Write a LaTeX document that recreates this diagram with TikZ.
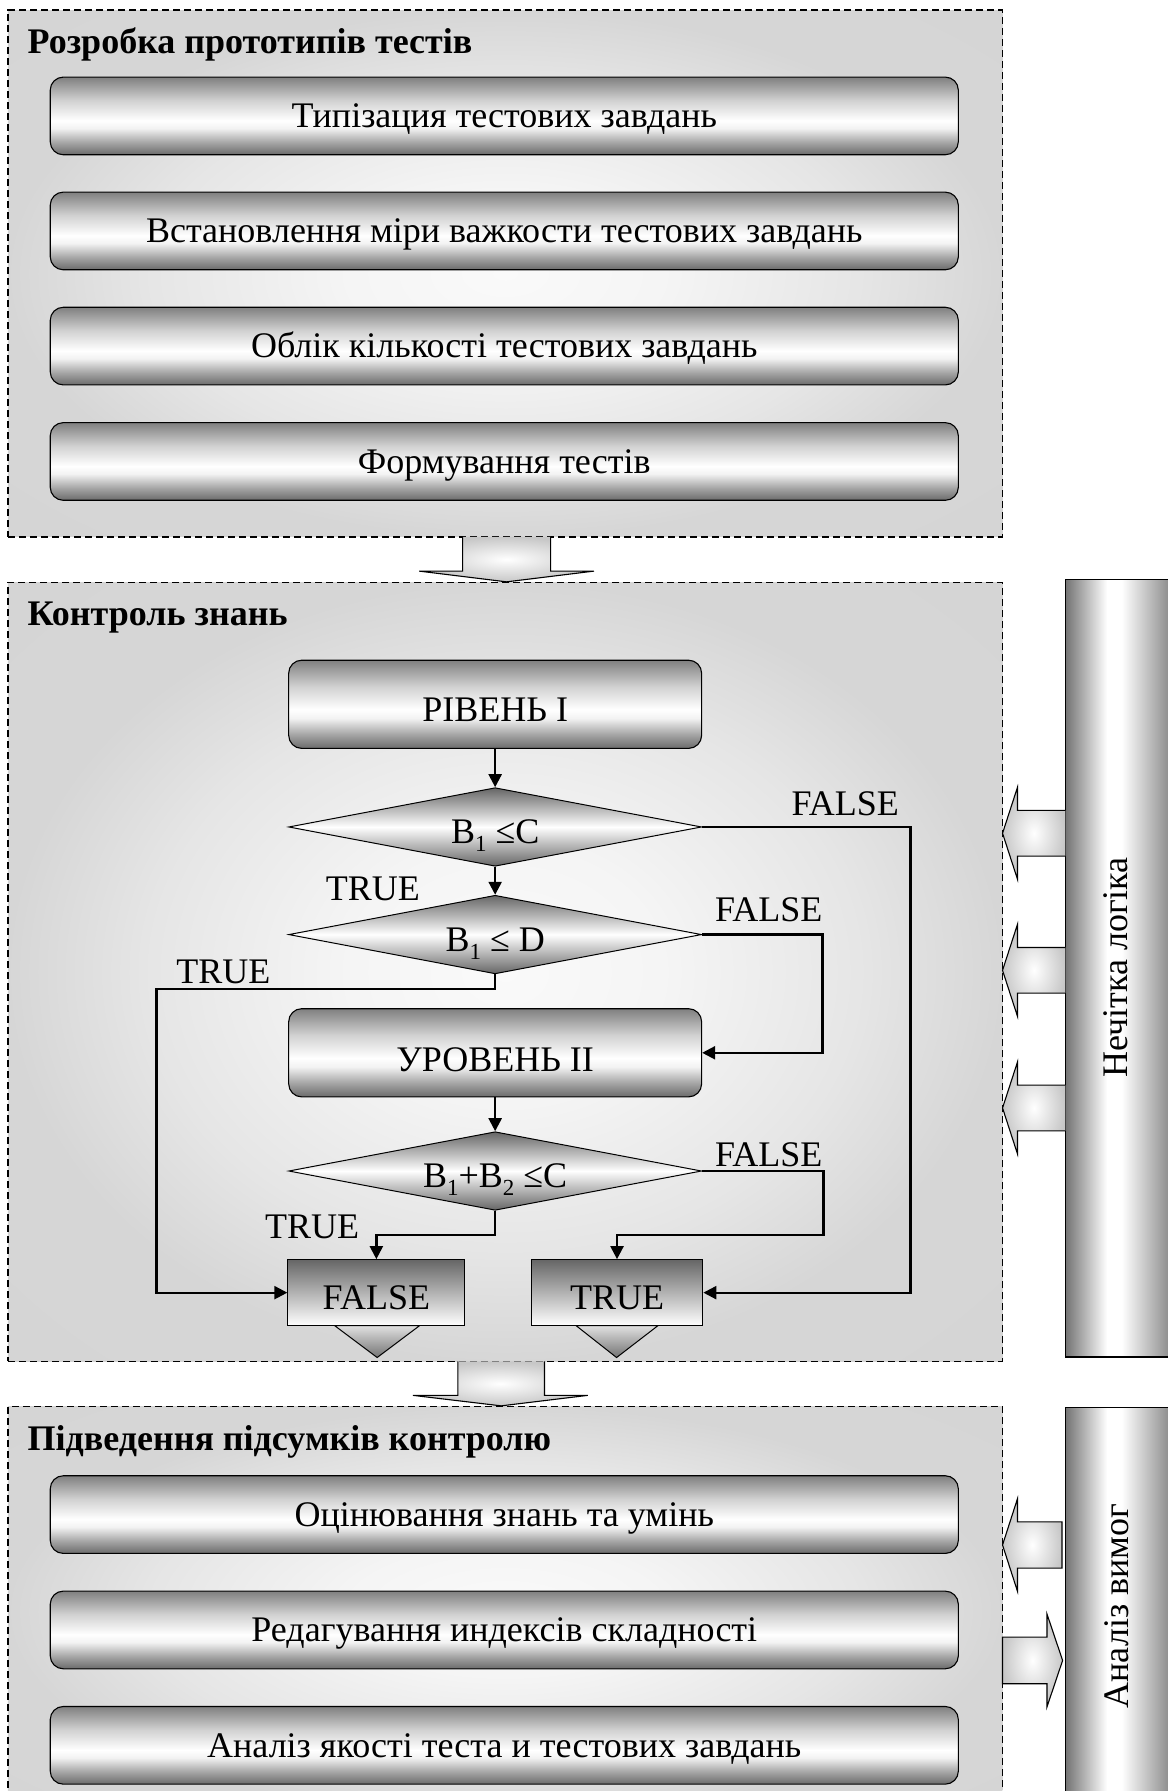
\documentclass[tikz,border=0pt]{standalone}
\usepackage{fontspec}
\setmainfont{Liberation Serif}
\usetikzlibrary{arrows.meta,shapes.geometric}

\pgfdeclareverticalshading{tubesh}{100bp}{color(0bp)=(black!58); color(25bp)=(black!58); color(33bp)=(black!35); color(42bp)=(black!5); color(47bp)=(white); color(60bp)=(black!18); color(75bp)=(black!50); color(100bp)=(black!50)}
\pgfdeclareverticalshading{diash}{100bp}{color(0bp)=(black!60); color(25bp)=(black!60); color(50bp)=(white); color(75bp)=(black!60); color(100bp)=(black!60)}
\pgfdeclarehorizontalshading{barsh}{100bp}{color(0bp)=(black!55); color(25bp)=(black!55); color(45bp)=(white); color(52bp)=(white); color(75bp)=(black!45); color(100bp)=(black!45)}
\pgfdeclareradialshading{secsh}{\pgfpoint{0bp}{0bp}}{color(0bp)=(black!2); color(8bp)=(black!4); color(18bp)=(black!10); color(25bp)=(black!16); color(50bp)=(black!17)}

\newcommand{\myU}{1.1419pt}
\newcommand{\sbs}[1]{\raisebox{-0.22em}{\fontsize{23}{23}\selectfont #1}}

\begin{document}
\begin{tikzpicture}[x=1.1419pt,y=-1.1419pt,
 fs/.style={font=\fontsize{36}{40}\selectfont},
 ttl/.style={font=\fontsize{36}{40}\selectfont\bfseries, inner sep=0pt, anchor=base west},
 tube/.style={rectangle, shade, shading=tubesh, draw=black, line width=1.1pt, rounded corners=13pt, inner sep=0pt, text height=23.5pt, text depth=0pt, fs},
 bigtube/.style={tube, minimum width=795*\myU, minimum height=68*\myU},
 flowtube/.style={tube, minimum width=361.5*\myU, minimum height=77.2*\myU},
 dia/.style={diamond, shape aspect=5.25, shade, shading=diash, draw=black, line width=1pt, inner sep=0pt, minimum width=361.5*\myU, minimum height=68.8*\myU, text height=23.5pt, text depth=0pt, fs},
 endbox/.style={rectangle, shade, top color=black!60, bottom color=white, draw=black, line width=1pt, inner sep=0pt, minimum height=57.8*\myU, text height=23.5pt, text depth=0pt, fs},
 lbl/.style={inner sep=0pt, text height=23.5pt, text depth=0pt, fs},
 conn/.style={line width=2.3pt, -{Triangle[length=13pt,width=13pt]}},
 secbox/.style={rectangle, draw=black, line width=1.3pt, dash pattern=on 7pt off 4pt, shade, shading=secsh, inner sep=0pt},
 fat/.style={draw=black, line width=1.1pt, line join=miter},
 fatfill/.style={inner color=white, outer color=black!22},
]
\useasboundingbox (0,0) rectangle (1022,1568);

% sections
\node[secbox, minimum width=870.5*\myU, minimum height=461.2*\myU] (s1) at (442.25,239.4) {};
\node[secbox, minimum width=870.5*\myU, minimum height=682.2*\myU] (s2) at (442.25,850.8) {};
\node[secbox, minimum width=870.5*\myU, minimum height=358.7*\myU] (s3) at (442.25,1410.65) {};

% titles
\node[ttl] (t1) at (24,46.7) {Розробка прототипів тестів};
\node[ttl] (t2) at (24,548) {Контроль знань};
\node[ttl] (t3) at (24,1270) {Підведення підсумків контролю};

% section 1 boxes
\node[bigtube] (a1) at (441.5,101.5) {Типізация тестових завдань};
\node[bigtube] (a2) at (441.5,202.2) {Встановлення міри важкости тестових завдань};
\node[bigtube] (a3) at (441.5,303) {Облік кількості тестових завдань};
\node[bigtube] (a4) at (441.5,404) {Формування тестів};

% section 3 boxes
\node[bigtube] (c1) at (441.5,1326) {Оцінювання знань та умінь};
\node[bigtube] (c2) at (441.5,1427) {Редагування индексів складності};
\node[bigtube] (c3) at (441.5,1528) {Аналіз якості теста и тестових завдань};

% block arrows between sections
\shade[fatfill] (405,470) -- (405,500) -- (367,500) -- (443.5,509.4) -- (520,500) -- (482,500) -- (482,470) -- cycle;
\draw[fat] (405,470) -- (405,500) -- (367,500) -- (443.5,509.4) -- (520,500) -- (482,500) -- (482,470);
\shade[fatfill] (400.8,1191.9) -- (400.8,1221.6) -- (361.5,1221.6) -- (438.75,1230.8) -- (514.7,1221.6) -- (476.7,1221.6) -- (476.7,1191.9) -- cycle;
\draw[fat] (400.8,1191.9) -- (400.8,1221.6) -- (361.5,1221.6) -- (438.75,1230.8) -- (514.7,1221.6) -- (476.7,1221.6) -- (476.7,1191.9);

% side bars
\shade[shading=barsh, draw=black, line width=1.2pt] (932.7,507) rectangle (1024,1188);
\node[lbl, rotate=90] (n1) at (977,847) {Нечітка логіка};
\shade[shading=barsh, draw=black, line width=1.2pt] (932.7,1232) rectangle (1024,1590);
\node[lbl, rotate=90] (n2) at (978,1406) {Аналіз вимог};

% arrows from bar 1
\foreach \c in {729.5,849.5,970}{
  \shade[fatfill] (932.7,\c-20) -- (890.8,\c-20) -- (890.8,\c-40.3) -- (877.7,\c) -- (890.8,\c+40.3) -- (890.8,\c+20) -- (932.7,\c+20) -- cycle;
  \draw[fat] (932.7,\c-20) -- (890.8,\c-20) -- (890.8,\c-40.3) -- (877.7,\c) -- (890.8,\c+40.3) -- (890.8,\c+20) -- (932.7,\c+20);
}
% arrows of bar 2
\shade[fatfill] (929.8,1332.4) -- (890.8,1332.4) -- (890.8,1312) -- (877.7,1352.6) -- (890.8,1393.2) -- (890.8,1372.8) -- (929.8,1372.8) -- cycle;
\draw[fat] (929.8,1332.4) -- (890.8,1332.4) -- (890.8,1312) -- (877.7,1352.6) -- (890.8,1393.2) -- (890.8,1372.8) -- (929.8,1372.8) -- cycle;
\shade[fatfill] (877.7,1433.3) -- (916.6,1433.3) -- (916.6,1413) -- (930.3,1453.7) -- (916.6,1494.4) -- (916.6,1474.1) -- (877.7,1474.1) -- cycle;
\draw[fat] (877.7,1433.3) -- (916.6,1433.3) -- (916.6,1413) -- (930.3,1453.7) -- (916.6,1494.4) -- (916.6,1474.1) -- (877.7,1474.1) -- cycle;

% flowchart
\node[flowtube] (r1) at (433.5,616.6) {\raisebox{-5.5pt}{РІВЕНЬ І}};
\node[dia] (d1) at (433.5,724) {\raisebox{-4.5pt}{B\sbs{1} ≤C}};
\node[dia] (d2) at (433.5,818.2) {\raisebox{-5.5pt}{B\sbs{1} ≤ D}};
\node[flowtube] (u2) at (433.5,921.7) {\raisebox{-7pt}{УРОВЕНЬ II}};
\node[dia] (d3) at (433.5,1025.2) {\raisebox{-5pt}{B\sbs{1}+B\sbs{2} ≤C}};
\node[endbox, minimum width=155*\myU] (fb) at (329.5,1131.7) {\raisebox{-5.5pt}{FALSE}};
\node[endbox, minimum width=150.3*\myU] (tb) at (540.2,1131.7) {\raisebox{-5.5pt}{TRUE}};

% small down arrows below result boxes
\shade[top color=black!12, bottom color=black!55, draw=black, line width=1pt] (293,1160.6) -- (330.2,1188.5) -- (367.3,1160.6) -- cycle;
\shade[top color=black!12, bottom color=black!55, draw=black, line width=1pt] (504.4,1160.6) -- (539.8,1188.5) -- (576,1160.6) -- cycle;

% labels
\node[lbl] (lf1) at (740,703.5) {FALSE};
\node[lbl] (lt1) at (326.4,778) {TRUE};
\node[lbl] (lf2) at (673,796.6) {FALSE};
\node[lbl] (lt2) at (195.5,851) {TRUE};
\node[lbl] (lf3) at (673,1010.7) {FALSE};
\node[lbl] (lt3) at (273.3,1074) {TRUE};

% bend points
\coordinate (k1) at (797,900);
\coordinate (k2) at (137,866.1);
\coordinate (k3) at (720,870);
\coordinate (k4) at (433.5,1081.5);
\coordinate (k5) at (721,1081.5);

% connectors
\draw[conn] (r1.south) -- (d1.north);
\draw[conn] (d1.south) -- (d2.north);
\draw[conn] (u2.south) -- (d3.north);
\draw[conn] (d1.east) -| (k1) |- (tb.east);
\draw[conn] (d2.east) -| (k3) |- (u2.east);
\draw[conn] (d2.south) |- (k2) |- (fb.west);
\draw[conn] (d3.south) -- (k4) -| (fb.north);
\draw[conn] (d3.east) -| (k5) -| (tb.north);
\end{tikzpicture}
\end{document}
